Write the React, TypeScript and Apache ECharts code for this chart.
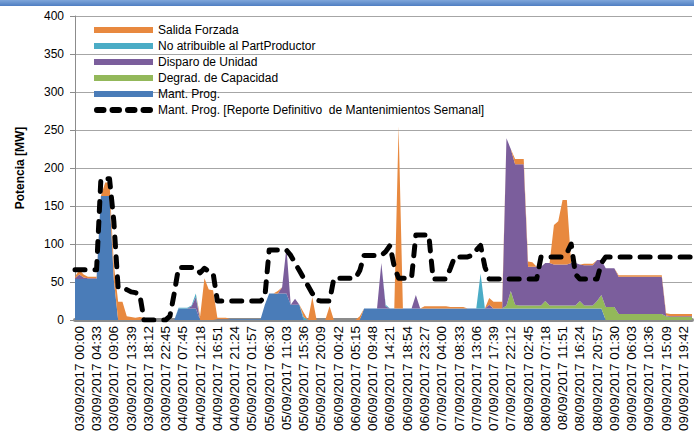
import React, { useEffect, useRef } from 'react';
import * as echarts from 'echarts';

// Tick labels shown on the category axis (one label every 4 sub-steps)
const tickLabels = [
  '03/09/2017 00:00', '03/09/2017 04:33', '03/09/2017 09:06', '03/09/2017 13:39', '03/09/2017 18:12', '03/09/2017 22:45',
  '04/09/2017 07:45', '04/09/2017 12:18', '04/09/2017 16:51', '04/09/2017 21:24',
  '05/09/2017 01:57', '05/09/2017 06:30', '05/09/2017 11:03', '05/09/2017 15:36', '05/09/2017 20:09',
  '06/09/2017 00:42', '06/09/2017 05:15', '06/09/2017 09:48', '06/09/2017 14:21', '06/09/2017 18:54', '06/09/2017 23:27',
  '07/09/2017 04:00', '07/09/2017 08:33', '07/09/2017 13:06', '07/09/2017 17:39', '07/09/2017 22:12',
  '08/09/2017 02:45', '08/09/2017 07:18', '08/09/2017 11:51', '08/09/2017 16:24', '08/09/2017 20:57',
  '09/09/2017 01:30', '09/09/2017 06:03', '09/09/2017 10:36', '09/09/2017 15:09', '09/09/2017 19:42',
];
const SUB = 4; // sub-steps per tick label

const seriesNames = [
  'Salida Forzada',
  'No atribuible al PartProductor',
  'Disparo de Unidad',
  'Degrad. de Capacidad',
  'Mant. Prog.',
  'Mant. Prog. [Reporte Definitivo  de Mantenimientos Semanal]',
];

// MW, stacked from bottom: Mant. Prog. -> Degrad. -> Disparo -> No atribuible -> Salida Forzada
const mantProg = [
  54, 54, 54, 54, 54, 54, 163, 163, 163, 53, 0, 0,
  0, 0, 0, 0, 0, 0, 0, 0, 0, 0, 0, 0,
  15, 15, 15, 15, 15, 0, 0, 0, 0, 1, 1, 1,
  1, 1, 1, 1, 1, 1, 1, 1, 20, 35, 35, 35,
  35, 35, 20, 20, 20, 0, 0, 0, 0, 0, 0, 0,
  0, 0, 0, 0, 0, 0, 0, 15, 15, 15, 15, 15,
  15, 15, 15, 15, 15, 15, 15, 15, 15, 15, 15, 15,
  15, 15, 15, 15, 15, 15, 15, 15, 15, 15, 15, 15,
  15, 15, 15, 15, 15, 15, 15, 15, 15, 15, 15, 15,
  15, 15, 15, 15, 15, 15, 15, 15, 15, 15, 15, 15,
  15, 15, 15, 0, 0, 0, 0, 0, 0, 0, 0, 0,
  0, 0, 0, 0, 0, 0, 0, 0, 0, 0, 0, 0,
];

const degrad = [
  0, 0, 0, 0, 0, 0, 0, 0, 0, 0, 0, 0,
  0, 0, 0, 0, 0, 0, 0, 0, 0, 0, 0, 0,
  0, 0, 0, 0, 0, 0, 0, 0, 0, 0, 0, 0,
  0, 0, 0, 0, 0, 0, 0, 0, 0, 0, 0, 0,
  0, 0, 0, 0, 0, 0, 0, 0, 0, 0, 0, 0,
  0, 0, 0, 0, 0, 0, 0, 0, 0, 0, 0, 0,
  0, 0, 0, 0, 0, 0, 0, 0, 0, 0, 0, 0,
  0, 0, 0, 0, 0, 0, 0, 0, 0, 0, 0, 0,
  0, 0, 0, 0, 4, 23, 5, 4, 4, 4, 4, 4,
  4, 10, 4, 4, 4, 4, 4, 4, 4, 10, 4, 4,
  4, 10, 18, 17, 17, 17, 8, 8, 8, 8, 8, 8,
  8, 8, 8, 8, 8, 5, 4, 4, 4, 4, 4, 4,
];

const disparo = [
  1, 6, 2, 1, 1, 1, 0, 0, 0, 0, 0, 0,
  0, 0, 0, 0, 3, 2, 0, 0, 0, 0, 0, 0,
  0, 0, 0, 3, 15, 0, 0, 0, 0, 0, 0, 0,
  0, 0, 0, 0, 0, 0, 0, 0, 0, 0, 0, 0,
  8, 60, 0, 8, 0, 0, 0, 0, 0, 0, 0, 0,
  0, 0, 0, 0, 0, 0, 0, 0, 0, 0, 0, 60,
  3, 0, 0, 0, 0, 0, 0, 18, 0, 0, 0, 0,
  0, 0, 0, 0, 0, 0, 0, 0, 0, 0, 0, 0,
  5, 0, 0, 0, 220, 187, 185, 186, 186, 51, 51, 51,
  51, 50, 56, 54, 54, 54, 54, 56, 56, 48, 53, 53,
  53, 54, 46, 51, 51, 51, 49, 49, 49, 49, 49, 49,
  49, 49, 49, 49, 49, 1, 1, 1, 1, 1, 1, 1,
];

const noAtribuible = [
  0, 0, 0, 0, 0, 0, 0, 0, 0, 0, 0, 0,
  0, 0, 0, 0, 0, 0, 0, 0, 0, 0, 0, 0,
  1, 1, 1, 1, 5, 0, 0, 0, 0, 0, 0, 0,
  0, 0, 0, 0, 0, 0, 0, 0, 0, 0, 0, 0,
  0, 0, 0, 0, 0, 4, 0, 0, 0, 0, 0, 0,
  0, 0, 0, 0, 0, 0, 0, 0, 0, 0, 0, 0,
  2, 0, 0, 0, 0, 0, 0, 0, 0, 0, 0, 0,
  0, 0, 0, 0, 0, 0, 0, 0, 0, 0, 46, 0,
  0, 0, 0, 0, 0, 0, 0, 0, 0, 0, 0, 0,
  0, 0, 0, 0, 0, 0, 0, 0, 0, 0, 0, 0,
  0, 0, 0, 0, 0, 0, 0, 0, 0, 0, 0, 0,
  0, 0, 0, 0, 0, 0, 0, 0, 0, 0, 0, 0,
];

const salidaForzada = [
  2, 6, 4, 2, 2, 2, 0, 18, 18, 20, 24, 24,
  5, 4, 3, 4, 0, 0, 0, 0, 0, 0, 0, 0,
  0, 0, 0, 0, 0, 5, 55, 40, 39, 2, 2, 2,
  0, 0, 0, 0, 0, 0, 0, 0, 0, 0, 0, 3,
  0, 0, 0, 0, 0, 6, 0, 30, 0, 0, 0, 18,
  0, 0, 0, 0, 0, 0, 5, 0, 0, 0, 0, 0,
  0, 0, 0, 240, 0, 0, 0, 0, 0, 3, 3, 3,
  3, 3, 3, 2, 2, 2, 2, 0, 0, 0, 0, 0,
  9, 9, 9, 9, 0, 0, 7, 7, 7, 7, 6, 0,
  0, 0, 0, 52, 57, 85, 85, 0, 0, 0, 2, 2,
  2, 0, 0, 0, 0, 0, 2, 2, 2, 2, 2, 2,
  2, 2, 2, 2, 2, 3, 3, 3, 3, 3, 3, 3,
];

// Mant. Prog. as per the weekly maintenance report (dashed line)
const reporteSemanal = [
  66, 66, 66, 66, 66, 66, 186, 186, 186, 130, 42, 42,
  40, 37, 36, 34, 0, 0, 0, 0, 0, 0, 5, 35,
  69, 69, 69, 69, 69, 62, 68, 64, 62, 25, 25, 25,
  25, 25, 25, 25, 25, 25, 25, 25, 30, 92, 92, 92,
  92, 92, 85, 75, 65, 55, 45, 35, 26, 25, 25, 25,
  55, 55, 55, 55, 55, 55, 65, 85, 85, 85, 85, 85,
  90, 98, 70, 55, 55, 55, 55, 112, 112, 112, 112, 54,
  54, 54, 54, 68, 83, 83, 83, 83, 85, 92, 98, 70,
  54, 54, 54, 54, 54, 54, 54, 54, 54, 54, 54, 54,
  83, 83, 83, 83, 83, 83, 88, 100, 60, 54, 54, 54,
  54, 54, 75, 83, 83, 83, 83, 83, 83, 83, 83, 83,
  83, 83, 83, 83, 83, 83, 83, 83, 83, 83, 83, 83,
];

const yTicks = { min: 0, max: 400, interval: 50 };

const colors = {
  salida: '#E8893F',
  noAtrib: '#4BACC6',
  disparo: '#7B5E9C',
  degrad: '#93B85A',
  mant: '#4A7CB8',
};

const FONT = '"Liberation Sans", Arial, sans-serif';

// legend icon: four rounded dashes
const DASH_ICON =
  'path://M3,0H9.5A3,3 0 0 1 9.5,6H3A3,3 0 0 1 3,0Z' +
  'M18.5,0H25A3,3 0 0 1 25,6H18.5A3,3 0 0 1 18.5,0Z' +
  'M34,0H40.5A3,3 0 0 1 40.5,6H34A3,3 0 0 1 34,0Z' +
  'M49.5,0H56A3,3 0 0 1 56,6H49.5A3,3 0 0 1 49.5,0Z';

export default function App() {
  const ref = useRef<HTMLDivElement>(null);

  useEffect(() => {
    document.body.style.margin = '0';
    if (!ref.current) return;
    const chart = echarts.init(ref.current, undefined, { renderer: 'svg' });

    const categories: string[] = [];
    tickLabels.forEach((t) => {
      for (let j = 0; j < SUB; j++) categories.push(j === 1 ? t : `${t} ·${j}`);
    });

    const area = (name: string, data: number[], color: string) => ({
      name,
      type: 'line',
      stack: 'total',
      data,
      color,
      symbol: 'none',
      showSymbol: false,
      lineStyle: { width: 0, color },
      itemStyle: { color },
      areaStyle: { color, opacity: 1 },
      emphasis: { disabled: true },
    });

    const option: any = {
      animation: false,
      textStyle: { fontFamily: FONT },
      grid: { left: 75, right: 2, top: 16, bottom: 117, containLabel: false },
      graphic: [
        {
          type: 'rect',
          left: 0,
          top: 0,
          shape: { width: 694, height: 6 },
          style: {
            fill: new echarts.graphic.LinearGradient(0, 0, 0, 1, [
              { offset: 0, color: '#7FA6DA' },
              { offset: 1, color: '#4F7EC2' },
            ]),
          },
          silent: true,
        },
      ],
      legend: {
        orient: 'vertical',
        left: 94,
        top: 22,
        padding: 0,
        itemWidth: 59,
        itemHeight: 6,
        itemGap: 0,
        textStyle: { fontSize: 12, color: '#000', lineHeight: 16, fontFamily: FONT },
        data: [
          { name: seriesNames[0], icon: 'rect' },
          { name: seriesNames[1], icon: 'rect' },
          { name: seriesNames[2], icon: 'rect' },
          { name: seriesNames[3], icon: 'rect' },
          { name: seriesNames[4], icon: 'rect' },
          { name: seriesNames[5], icon: DASH_ICON },
        ],
        selectedMode: false,
      },
      xAxis: {
        type: 'category',
        boundaryGap: false,
        data: categories,
        axisLine: { lineStyle: { color: '#8C8C8C', width: 4 } },
        axisTick: { show: false },
        axisLabel: {
          interval: (i: number) => i % SUB === 1,
          rotate: 90,
          fontSize: 13.5,
          color: '#000',
          margin: 6,
          fontFamily: FONT,
        },
        splitLine: { show: false },
      },
      yAxis: {
        type: 'value',
        min: yTicks.min,
        max: yTicks.max,
        interval: yTicks.interval,
        name: 'Potencia [MW]',
        nameLocation: 'middle',
        nameGap: 49,
        nameTextStyle: { fontWeight: 'bold', fontSize: 12, color: '#000', fontFamily: FONT },
        axisLine: { show: true, lineStyle: { color: '#8C8C8C', width: 1 } },
        axisTick: { show: true, length: 5, lineStyle: { color: '#8C8C8C' } },
        axisLabel: { fontSize: 12, color: '#000', margin: 11, fontFamily: FONT },
        splitLine: { lineStyle: { color: '#A6A6A6', width: 1 } },
      },
      series: [
        area(seriesNames[4], mantProg, colors.mant),
        area(seriesNames[3], degrad, colors.degrad),
        area(seriesNames[2], disparo, colors.disparo),
        area(seriesNames[1], noAtribuible, colors.noAtrib),
        area(seriesNames[0], salidaForzada, colors.salida),
        {
          name: seriesNames[5],
          type: 'line',
          data: reporteSemanal,
          color: '#000',
          symbol: 'none',
          showSymbol: false,
          z: 5,
          lineStyle: { color: '#000', width: 5, type: [10, 10], cap: 'round', join: 'round' },
          itemStyle: { color: '#000' },
          emphasis: { disabled: true },
        },
      ],
    };

    chart.setOption(option);
    return () => chart.dispose();
  }, []);

  return <div ref={ref} style={{ width: 694, height: 437 }} />;
}
